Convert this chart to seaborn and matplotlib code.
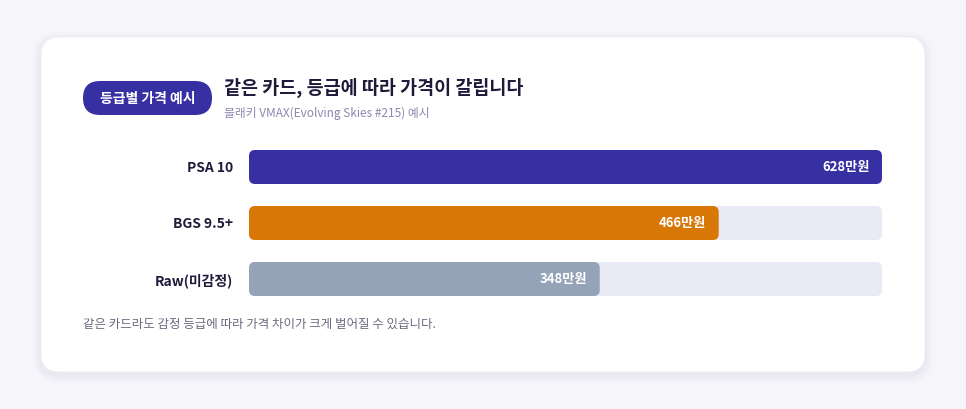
import matplotlib
matplotlib.use("Agg")
import matplotlib.pyplot as plt
import seaborn as sns
import pandas as pd
from matplotlib.patches import FancyBboxPatch

# data
grades = ["PSA 10", "BGS 9.5+", "Raw(미감정)"]
prices = [628, 466, 348]          # 만원
bar_colors = ["#3730a3", "#d97706", "#94a3b8"]
title = "같은 카드, 등급에 따라 가격이 갈립니다"
subtitle = "블래키 VMAX(Evolving Skies #215) 예시"
badge = "등급별 가격 예시"
note = "같은 카드라도 감정 등급에 따라 가격 차이가 크게 벌어질 수 있습니다."

sns.set_theme(style="white")
plt.rcParams["font.family"] = ["Noto Sans CJK KR", "DejaVu Sans"]

W, H = 966, 409
fig = plt.figure(figsize=(W / 100, H / 100), dpi=100)
fig.patch.set_facecolor("#f5f5fa")


def px(x, y):
    # pixel (top-left origin) -> inches for dpi_scale_trans
    return x / 100, (H - y) / 100


# card with soft shadow
for i, a in enumerate([0.012, 0.015, 0.018, 0.022]):
    g = 8 - 2 * i
    x0, y0 = px(41 - g, 372 + g + 3)
    fig.patches.append(FancyBboxPatch((x0, y0), (884 + 2 * g) / 100, (335 + 2 * g) / 100,
                                      boxstyle="round,pad=0,rounding_size=%f" % ((18 + g) / 100),
                                      transform=fig.dpi_scale_trans, fc="#6b6b9a", ec="none",
                                      alpha=a, zorder=0))
x0, y0 = px(41, 372)
fig.patches.append(FancyBboxPatch((x0, y0), 884 / 100, 335 / 100,
                                  boxstyle="round,pad=0,rounding_size=0.18",
                                  transform=fig.dpi_scale_trans, fc="white", ec="#ececf4",
                                  lw=0.6, zorder=1))

# badge pill
x0, y0 = px(83, 115)
fig.patches.append(FancyBboxPatch((x0, y0), 129 / 100, 34 / 100,
                                  boxstyle="round,pad=0,rounding_size=0.17",
                                  transform=fig.dpi_scale_trans, fc="#3730a3", ec="none", zorder=2))
fig.text(147.5 / W, 1 - 99 / H, badge, ha="center", va="center", color="white",
         fontsize=10, fontweight="bold", zorder=3)

fig.text(224 / W, 1 - 88 / H, title, ha="left", va="center", color="#1e1b3a",
         fontsize=13.3, fontweight="bold")
fig.text(224 / W, 1 - 113 / H, subtitle, ha="left", va="center", color="#8b87b0",
         fontsize=8.5)
fig.text(83 / W, 1 - 324 / H, note, ha="left", va="center", color="#6b6b80",
         fontsize=9)

# bar axes
ax = fig.add_axes([249 / W, 1 - 296 / H, 633 / W, 146 / H])
ax.set_zorder(5)
ax.set_facecolor("none")
df = pd.DataFrame({"grade": grades, "price": prices, "track": [max(prices)] * len(prices)})
h = 34 / 56
sns.barplot(data=df, y="grade", x="track", color="#eaeaf6", width=h, saturation=1, ax=ax)
sns.barplot(data=df, y="grade", x="price", hue="grade", palette=bar_colors,
            width=h, saturation=1, legend=False, ax=ax)
ax.set_xlim(0, max(prices))
ax.set_ylim(2 + h / 2, -h / 2)

# swap plain rectangles for rounded ones
xr = 6 * max(prices) / 633
yr = 6 / 56
for p in list(ax.patches):
    bx, by = p.get_x(), p.get_y()
    bw, bh = p.get_width(), p.get_height()
    fc = p.get_facecolor()
    z = p.get_zorder()
    p.remove()
    ax.add_patch(FancyBboxPatch((bx, by), bw, bh,
                                boxstyle="round,pad=0,rounding_size=%f" % xr,
                                mutation_aspect=yr / xr, fc=fc, ec="none", zorder=z))

for i, v in enumerate(prices):
    ax.annotate(f"{v}만원", (v, i), xytext=(-9, 0), textcoords="offset points",
                ha="right", va="center", color="white", fontsize=9.5, fontweight="bold")

ax.set_xlabel("")
ax.set_ylabel("")
ax.set_xticks([])
ax.tick_params(axis="y", length=0, pad=11.5)
for t in ax.get_yticklabels():
    t.set_fontsize(10)
    t.set_fontweight("bold")
    t.set_color("#1e1b3a")
sns.despine(ax=ax, left=True, bottom=True)

fig.savefig("out.png", dpi=100, facecolor=fig.get_facecolor())
